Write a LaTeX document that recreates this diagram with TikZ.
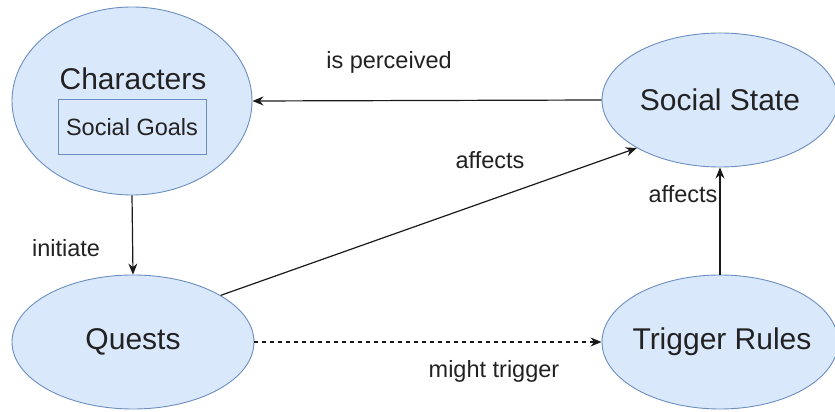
\documentclass[tikz,border=0pt]{standalone}
\usepackage{fontspec}
\setmainfont{Liberation Sans}
\usetikzlibrary{shapes.geometric,arrows.meta}
\definecolor{fillb}{HTML}{DAE8FC}
\definecolor{strokeb}{HTML}{6C8EBF}
\definecolor{txt}{HTML}{222222}
\definecolor{edge}{HTML}{1A1A1A}
\tikzset{
  blob/.style={ellipse, draw=strokeb, fill=fillb, line width=0.9pt, inner sep=0pt},
  bigtxt/.style={text=txt, font=\fontsize{30}{34}\selectfont, inner sep=0pt},
  goalbox/.style={draw=strokeb, fill=fillb, line width=0.9pt, minimum width=148pt, minimum height=55pt, inner sep=0pt, text=txt, font=\fontsize{23.5}{27}\selectfont},
  lbl/.style={text=txt, font=\fontsize{23.5}{27}\selectfont, inner sep=0pt},
  conn/.style={draw=edge, line width=1.2pt, -{Stealth[length=11pt,width=9pt]}},
}
\begin{document}
\begin{tikzpicture}[x=1pt,y=1pt]
\useasboundingbox (0,0) rectangle (835,412);
\node[blob, minimum width=240pt, minimum height=188pt] (ch) at (132,311) {};
\node[bigtxt, anchor=base] (cht) at (133,322) {Characters};
\node[goalbox] (sg) at (132,285) {Social Goals};
\node[blob, minimum width=236pt, minimum height=134pt] (ss) at (720,312) {};
\node[bigtxt] (sst) at (ss.center) {Social State};
\node[blob, minimum width=242pt, minimum height=134pt] (q) at (133,70) {};
\node[bigtxt] (qt) at (q.center) {Quests};
\node[blob, minimum width=236pt, minimum height=134pt] (tr) at (720,70) {};
\node[bigtxt] (trt) at (722,70) {Trigger Rules};

\draw[conn] (ss.west) -- (ch.east);
\draw[conn] (ch.south) -- (q.north);
\draw[conn] (q.28.7) -- (ss.210.3);
\draw[conn] (tr.north) -- (ss.south);
\draw[conn, dash pattern=on 4pt off 4pt] (q.east) -- (tr.west);

\node[lbl] (l1) at (389,350) {is perceived};
\node[lbl] (l2) at (66,164) {initiate};
\node[lbl] (l3) at (490,252) {affects};
\node[lbl] (l4) at (683,218) {affects};
\node[lbl] (l5) at (494,41) {might trigger};
\end{tikzpicture}
\end{document}
